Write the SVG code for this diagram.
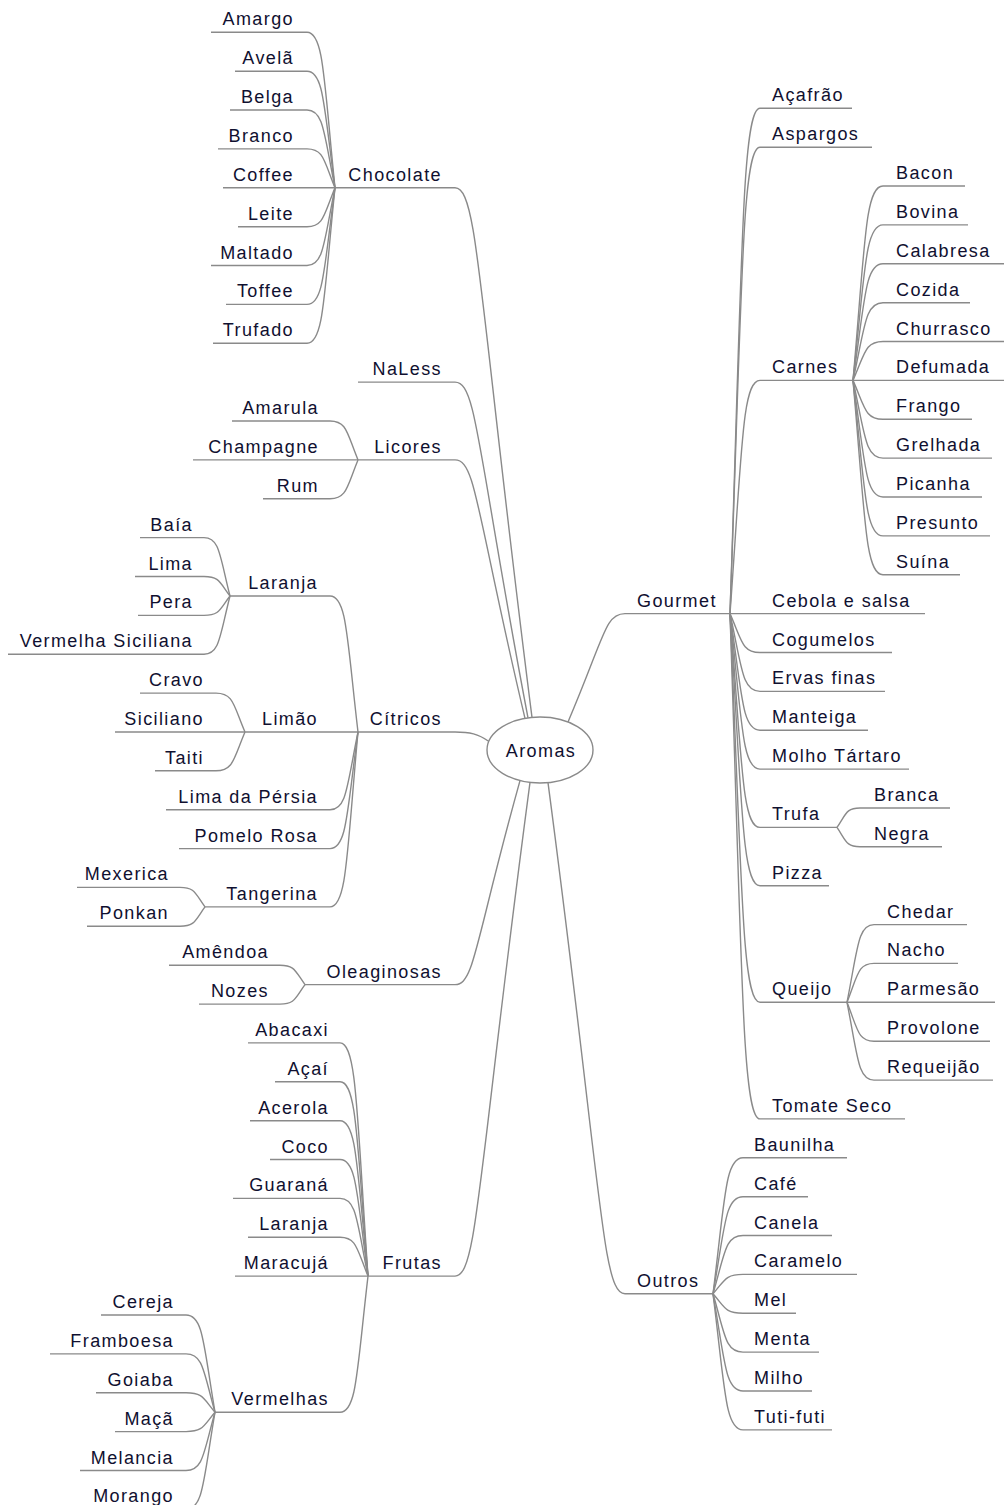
<svg xmlns="http://www.w3.org/2000/svg" width="1004" height="1505" viewBox="0 0 1004 1505">
<style>
  .t { font-family: "Liberation Sans", Arial, sans-serif; font-size: 18px; letter-spacing: 1.4px; fill: #101030; }
  .e { text-anchor: end; }
  .u, .c { fill: none; stroke: #8a8a8a; stroke-width: 1.4; }
  .root { fill: #ffffff; stroke: #8a8a8a; stroke-width: 1.4; }
</style>
<rect width="1004" height="1505" fill="#ffffff"/>

<!-- curved connectors between nodes -->
<g id="connectors" class="c">
  <!-- main branches to the root -->
  <path d="M455,187.8 C478.1,187.8 478.1,293.7 532,717.4"/>
  <path d="M455,382.1 C476.9,382.1 476.9,449.3 528,717.9"/>
  <path d="M455,459.9 C476,459.9 476,511.6 525,718.4"/>
  <path d="M455,732 C470,732 478,734 489,741.5"/>
  <path d="M455,984.6 C474.5,984.6 474.5,943.8 520,780.6"/>
  <path d="M455,1276.1 C477.5,1276.1 477.5,1177.4 530,782.4"/>
  <path d="M625,613.6 C605,613.6 605,635.3 568,722"/>
  <path d="M625,1293.8 C601.9,1293.8 601.9,1191.6 548,782.6"/>

  <!-- Chocolate -->
  <path d="M307,32.3 C323.8,32.3 323.8,79 335,187.8"/>
  <path d="M307,71.2 C323.8,71.2 323.8,106.2 335,187.8"/>
  <path d="M307,110 C323.8,110 323.8,133.3 335,187.8"/>
  <path d="M307,148.9 C323.8,148.9 323.8,160.6 335,187.8"/>
  <path d="M307,226.7 C323.8,226.7 323.8,215 335,187.8"/>
  <path d="M307,265.5 C323.8,265.5 323.8,242.2 335,187.8"/>
  <path d="M307,304.4 C323.8,304.4 323.8,269.4 335,187.8"/>
  <path d="M307,343.3 C323.8,343.3 323.8,296.6 335,187.8"/>

  <!-- Licores -->
  <path d="M330,421 C346.8,421 346.8,432.7 358,459.9"/>
  <path d="M330,498.7 C346.8,498.7 346.8,487.1 358,459.9"/>

  <!-- Cítricos -->
  <path d="M330,596 C346.8,596 346.8,636.8 358,732"/>
  <path d="M330,809.7 C346.8,809.7 346.8,786.4 358,732"/>
  <path d="M330,848.6 C346.8,848.6 346.8,813.6 358,732"/>
  <path d="M330,906.9 C346.8,906.9 346.8,854.4 358,732"/>

  <!-- Laranja -->
  <path d="M204,537.6 C219.6,537.6 219.6,555.1 230,596"/>
  <path d="M204,576.5 C219.6,576.5 219.6,582.4 230,596"/>
  <path d="M204,615.4 C219.6,615.4 219.6,609.6 230,596"/>
  <path d="M204,654.2 C219.6,654.2 219.6,636.7 230,596"/>

  <!-- Limão -->
  <path d="M216,693.1 C233.4,693.1 233.4,704.8 245,732"/>
  <path d="M216,770.8 C233.4,770.8 233.4,759.2 245,732"/>

  <!-- Tangerina -->
  <path d="M180,887.4 C195,887.4 195,893.3 205,906.9"/>
  <path d="M180,926.3 C195,926.3 195,920.5 205,906.9"/>

  <!-- Oleaginosas -->
  <path d="M280,965.2 C295,965.2 295,971 305,984.6"/>
  <path d="M280,1004.1 C295,1004.1 295,998.2 305,984.6"/>

  <!-- Frutas -->
  <path d="M340,1042.9 C356.8,1042.9 356.8,1112.9 368,1276.1"/>
  <path d="M340,1081.8 C356.8,1081.8 356.8,1140.1 368,1276.1"/>
  <path d="M340,1120.7 C356.8,1120.7 356.8,1167.3 368,1276.1"/>
  <path d="M340,1159.5 C356.8,1159.5 356.8,1194.5 368,1276.1"/>
  <path d="M340,1198.4 C356.8,1198.4 356.8,1221.7 368,1276.1"/>
  <path d="M340,1237.3 C356.8,1237.3 356.8,1248.9 368,1276.1"/>
  <path d="M340,1412.2 C356.8,1412.2 356.8,1371.4 368,1276.1"/>

  <!-- Vermelhas -->
  <path d="M186,1315 C203.4,1315 203.4,1344.2 215,1412.2"/>
  <path d="M186,1353.9 C203.4,1353.9 203.4,1371.4 215,1412.2"/>
  <path d="M186,1392.8 C203.4,1392.8 203.4,1398.6 215,1412.2"/>
  <path d="M186,1431.6 C203.4,1431.6 203.4,1425.8 215,1412.2"/>
  <path d="M186,1470.5 C203.4,1470.5 203.4,1453 215,1412.2"/>
  <path d="M186,1509.4 C203.4,1509.4 203.4,1480.2 215,1412.2"/>

  <!-- Gourmet -->
  <path d="M760,108.3 C742,108.3 742,259.9 730,613.6"/>
  <path d="M760,147.2 C742,147.2 742,287.1 730,613.6"/>
  <path d="M760,380.4 C742,380.4 742,450.4 730,613.6"/>
  <path d="M760,652.5 C742,652.5 742,640.8 730,613.6"/>
  <path d="M760,691.4 C742,691.4 742,668.1 730,613.6"/>
  <path d="M760,730.2 C742,730.2 742,695.2 730,613.6"/>
  <path d="M760,769.1 C742,769.1 742,722.5 730,613.6"/>
  <path d="M760,827.4 C742,827.4 742,763.3 730,613.6"/>
  <path d="M760,885.7 C742,885.7 742,804.1 730,613.6"/>
  <path d="M760,1002.3 C742,1002.3 742,885.7 730,613.6"/>
  <path d="M760,1118.9 C742,1118.9 742,967.3 730,613.6"/>

  <!-- Carnes -->
  <path d="M883,186 C865,186 865,244.3 853,380.4"/>
  <path d="M883,224.9 C865,224.9 865,271.5 853,380.4"/>
  <path d="M883,263.8 C865,263.8 865,298.8 853,380.4"/>
  <path d="M883,302.7 C865,302.7 865,326 853,380.4"/>
  <path d="M883,341.5 C865,341.5 865,353.2 853,380.4"/>
  <path d="M883,419.3 C865,419.3 865,407.6 853,380.4"/>
  <path d="M883,458.1 C865,458.1 865,434.8 853,380.4"/>
  <path d="M883,497 C865,497 865,462 853,380.4"/>
  <path d="M883,535.9 C865,535.9 865,489.2 853,380.4"/>
  <path d="M883,574.7 C865,574.7 865,516.4 853,380.4"/>

  <!-- Trufa -->
  <path d="M860,808 C846.2,808 846.2,813.8 837,827.4"/>
  <path d="M860,846.8 C846.2,846.8 846.2,841 837,827.4"/>

  <!-- Queijo -->
  <path d="M874,924.6 C857.8,924.6 857.8,947.9 847,1002.3"/>
  <path d="M874,963.4 C857.8,963.4 857.8,975.1 847,1002.3"/>
  <path d="M874,1041.2 C857.8,1041.2 857.8,1029.5 847,1002.3"/>
  <path d="M874,1080.1 C857.8,1080.1 857.8,1056.8 847,1002.3"/>

  <!-- Outros -->
  <path d="M743,1157.8 C725,1157.8 725,1198.6 713,1293.8"/>
  <path d="M743,1196.7 C725,1196.7 725,1225.8 713,1293.8"/>
  <path d="M743,1235.5 C725,1235.5 725,1253 713,1293.8"/>
  <path d="M743,1274.4 C725,1274.4 725,1280.2 713,1293.8"/>
  <path d="M743,1313.3 C725,1313.3 725,1307.5 713,1293.8"/>
  <path d="M743,1352.1 C725,1352.1 725,1334.6 713,1293.8"/>
  <path d="M743,1391 C725,1391 725,1361.8 713,1293.8"/>
  <path d="M743,1429.9 C725,1429.9 725,1389.1 713,1293.8"/>
</g>

<!-- root -->
<g id="n-aromas">
  <ellipse class="root" cx="540" cy="750" rx="53" ry="33"/>
  <text class="t" x="541" y="757" text-anchor="middle">Aromas</text>
</g>

<!-- left: Chocolate -->
<g id="n-chocolate"><path class="u" d="M335,187.8H455"/><text class="t e" x="442" y="180.8">Chocolate</text></g>
<g id="n-amargo"><path class="u" d="M211,32.3H307"/><text class="t e" x="294" y="25.3">Amargo</text></g>
<g id="n-avela"><path class="u" d="M235,71.2H307"/><text class="t e" x="294" y="64.2">Avelã</text></g>
<g id="n-belga"><path class="u" d="M230,110H307"/><text class="t e" x="294" y="103">Belga</text></g>
<g id="n-branco"><path class="u" d="M218,148.9H307"/><text class="t e" x="294" y="141.9">Branco</text></g>
<g id="n-coffee"><path class="u" d="M223,187.8H335"/><text class="t e" x="294" y="180.8">Coffee</text></g>
<g id="n-leite"><path class="u" d="M238,226.7H307"/><text class="t e" x="294" y="219.7">Leite</text></g>
<g id="n-maltado"><path class="u" d="M211,265.5H307"/><text class="t e" x="294" y="258.5">Maltado</text></g>
<g id="n-toffee"><path class="u" d="M226,304.4H307"/><text class="t e" x="294" y="297.4">Toffee</text></g>
<g id="n-trufado"><path class="u" d="M213,343.3H307"/><text class="t e" x="294" y="336.3">Trufado</text></g>

<!-- left: NaLess -->
<g id="n-naless"><path class="u" d="M358,382.1H455"/><text class="t e" x="442" y="375.1">NaLess</text></g>

<!-- left: Licores -->
<g id="n-licores"><path class="u" d="M358,459.9H455"/><text class="t e" x="442" y="452.9">Licores</text></g>
<g id="n-amarula"><path class="u" d="M232,421H330"/><text class="t e" x="319" y="414">Amarula</text></g>
<g id="n-champagne"><path class="u" d="M193,459.9H358"/><text class="t e" x="319" y="452.9">Champagne</text></g>
<g id="n-rum"><path class="u" d="M263,498.7H330"/><text class="t e" x="319" y="491.7">Rum</text></g>

<!-- left: Cítricos -->
<g id="n-citricos"><path class="u" d="M358,732H455"/><text class="t e" x="442" y="725">Cítricos</text></g>
<g id="n-laranja"><path class="u" d="M230,596H330"/><text class="t e" x="318" y="589">Laranja</text></g>
<g id="n-baia"><path class="u" d="M140,537.6H204"/><text class="t e" x="193" y="530.6">Baía</text></g>
<g id="n-lima"><path class="u" d="M135,576.5H204"/><text class="t e" x="193" y="569.5">Lima</text></g>
<g id="n-pera"><path class="u" d="M138,615.4H204"/><text class="t e" x="193" y="608.4">Pera</text></g>
<g id="n-vermelha-siciliana"><path class="u" d="M8,654.2H204"/><text class="t e" x="193" y="647.2">Vermelha Siciliana</text></g>
<g id="n-limao"><path class="u" d="M245,732H358"/><text class="t e" x="318" y="725">Limão</text></g>
<g id="n-cravo"><path class="u" d="M140,693.1H216"/><text class="t e" x="204" y="686.1">Cravo</text></g>
<g id="n-siciliano"><path class="u" d="M115,732H245"/><text class="t e" x="204" y="725">Siciliano</text></g>
<g id="n-taiti"><path class="u" d="M155,770.8H216"/><text class="t e" x="204" y="763.8">Taiti</text></g>
<g id="n-lima-persia"><path class="u" d="M166,809.7H330"/><text class="t e" x="318" y="802.7">Lima da Pérsia</text></g>
<g id="n-pomelo-rosa"><path class="u" d="M179,848.6H330"/><text class="t e" x="318" y="841.6">Pomelo Rosa</text></g>
<g id="n-tangerina"><path class="u" d="M205,906.9H330"/><text class="t e" x="318" y="899.9">Tangerina</text></g>
<g id="n-mexerica"><path class="u" d="M77,887.4H180"/><text class="t e" x="169" y="880.4">Mexerica</text></g>
<g id="n-ponkan"><path class="u" d="M87,926.3H180"/><text class="t e" x="169" y="919.3">Ponkan</text></g>

<!-- left: Oleaginosas -->
<g id="n-oleaginosas"><path class="u" d="M305,984.6H455"/><text class="t e" x="442" y="977.6">Oleaginosas</text></g>
<g id="n-amendoa"><path class="u" d="M169,965.2H280"/><text class="t e" x="269" y="958.2">Amêndoa</text></g>
<g id="n-nozes"><path class="u" d="M199,1004.1H280"/><text class="t e" x="269" y="997.1">Nozes</text></g>

<!-- left: Frutas -->
<g id="n-frutas"><path class="u" d="M368,1276.1H455"/><text class="t e" x="442" y="1269.1">Frutas</text></g>
<g id="n-abacaxi"><path class="u" d="M248,1042.9H340"/><text class="t e" x="329" y="1035.9">Abacaxi</text></g>
<g id="n-acai"><path class="u" d="M275,1081.8H340"/><text class="t e" x="329" y="1074.8">Açaí</text></g>
<g id="n-acerola"><path class="u" d="M250,1120.7H340"/><text class="t e" x="329" y="1113.7">Acerola</text></g>
<g id="n-coco"><path class="u" d="M270,1159.5H340"/><text class="t e" x="329" y="1152.5">Coco</text></g>
<g id="n-guarana"><path class="u" d="M233,1198.4H340"/><text class="t e" x="329" y="1191.4">Guaraná</text></g>
<g id="n-laranja-fruta"><path class="u" d="M248,1237.3H340"/><text class="t e" x="329" y="1230.3">Laranja</text></g>
<g id="n-maracuja"><path class="u" d="M235,1276.1H368"/><text class="t e" x="329" y="1269.1">Maracujá</text></g>
<g id="n-vermelhas"><path class="u" d="M215,1412.2H340"/><text class="t e" x="329" y="1405.2">Vermelhas</text></g>
<g id="n-cereja"><path class="u" d="M101,1315H186"/><text class="t e" x="174" y="1308">Cereja</text></g>
<g id="n-framboesa"><path class="u" d="M50,1353.9H186"/><text class="t e" x="174" y="1346.9">Framboesa</text></g>
<g id="n-goiaba"><path class="u" d="M96,1392.8H186"/><text class="t e" x="174" y="1385.8">Goiaba</text></g>
<g id="n-maca"><path class="u" d="M115,1431.6H186"/><text class="t e" x="174" y="1424.6">Maçã</text></g>
<g id="n-melancia"><path class="u" d="M80,1470.5H186"/><text class="t e" x="174" y="1463.5">Melancia</text></g>
<g id="n-morango"><path class="u" d="M80,1509.4H186"/><text class="t e" x="174" y="1502.4">Morango</text></g>

<!-- right: Gourmet -->
<g id="n-gourmet"><path class="u" d="M625,613.6H730"/><text class="t" x="637" y="606.6">Gourmet</text></g>
<g id="n-acafrao"><path class="u" d="M760,108.3H852"/><text class="t" x="772" y="101.3">Açafrão</text></g>
<g id="n-aspargos"><path class="u" d="M760,147.2H872"/><text class="t" x="772" y="140.2">Aspargos</text></g>
<g id="n-carnes"><path class="u" d="M760,380.4H853"/><text class="t" x="772" y="373.4">Carnes</text></g>
<g id="n-bacon"><path class="u" d="M883,186H965"/><text class="t" x="896" y="179">Bacon</text></g>
<g id="n-bovina"><path class="u" d="M883,224.9H968"/><text class="t" x="896" y="217.9">Bovina</text></g>
<g id="n-calabresa"><path class="u" d="M883,263.8H1004"/><text class="t" x="896" y="256.8">Calabresa</text></g>
<g id="n-cozida"><path class="u" d="M883,302.7H970"/><text class="t" x="896" y="295.7">Cozida</text></g>
<g id="n-churrasco"><path class="u" d="M883,341.5H1004"/><text class="t" x="896" y="334.5">Churrasco</text></g>
<g id="n-defumada"><path class="u" d="M853,380.4H1004"/><text class="t" x="896" y="373.4">Defumada</text></g>
<g id="n-frango"><path class="u" d="M883,419.3H972"/><text class="t" x="896" y="412.3">Frango</text></g>
<g id="n-grelhada"><path class="u" d="M883,458.1H992"/><text class="t" x="896" y="451.1">Grelhada</text></g>
<g id="n-picanha"><path class="u" d="M883,497H982"/><text class="t" x="896" y="490">Picanha</text></g>
<g id="n-presunto"><path class="u" d="M883,535.9H990"/><text class="t" x="896" y="528.9">Presunto</text></g>
<g id="n-suina"><path class="u" d="M883,574.7H960"/><text class="t" x="896" y="567.7">Suína</text></g>
<g id="n-cebola-salsa"><path class="u" d="M730,613.6H925"/><text class="t" x="772" y="606.6">Cebola e salsa</text></g>
<g id="n-cogumelos"><path class="u" d="M760,652.5H892"/><text class="t" x="772" y="645.5">Cogumelos</text></g>
<g id="n-ervas-finas"><path class="u" d="M760,691.4H885"/><text class="t" x="772" y="684.4">Ervas finas</text></g>
<g id="n-manteiga"><path class="u" d="M760,730.2H868"/><text class="t" x="772" y="723.2">Manteiga</text></g>
<g id="n-molho-tartaro"><path class="u" d="M760,769.1H909"/><text class="t" x="772" y="762.1">Molho Tártaro</text></g>
<g id="n-trufa"><path class="u" d="M760,827.4H837"/><text class="t" x="772" y="820.4">Trufa</text></g>
<g id="n-branca"><path class="u" d="M860,808H950"/><text class="t" x="874" y="801">Branca</text></g>
<g id="n-negra"><path class="u" d="M860,846.8H942"/><text class="t" x="874" y="839.8">Negra</text></g>
<g id="n-pizza"><path class="u" d="M760,885.7H829"/><text class="t" x="772" y="878.7">Pizza</text></g>
<g id="n-queijo"><path class="u" d="M760,1002.3H847"/><text class="t" x="772" y="995.3">Queijo</text></g>
<g id="n-chedar"><path class="u" d="M874,924.6H967"/><text class="t" x="887" y="917.6">Chedar</text></g>
<g id="n-nacho"><path class="u" d="M874,963.4H958"/><text class="t" x="887" y="956.4">Nacho</text></g>
<g id="n-parmesao"><path class="u" d="M847,1002.3H995"/><text class="t" x="887" y="995.3">Parmesão</text></g>
<g id="n-provolone"><path class="u" d="M874,1041.2H990"/><text class="t" x="887" y="1034.2">Provolone</text></g>
<g id="n-requeijao"><path class="u" d="M874,1080.1H993"/><text class="t" x="887" y="1073.1">Requeijão</text></g>
<g id="n-tomate-seco"><path class="u" d="M760,1118.9H905"/><text class="t" x="772" y="1111.9">Tomate Seco</text></g>

<!-- right: Outros -->
<g id="n-outros"><path class="u" d="M625,1293.8H713"/><text class="t" x="637" y="1286.8">Outros</text></g>
<g id="n-baunilha"><path class="u" d="M743,1157.8H847"/><text class="t" x="754" y="1150.8">Baunilha</text></g>
<g id="n-cafe"><path class="u" d="M743,1196.7H808"/><text class="t" x="754" y="1189.7">Café</text></g>
<g id="n-canela"><path class="u" d="M743,1235.5H832"/><text class="t" x="754" y="1228.5">Canela</text></g>
<g id="n-caramelo"><path class="u" d="M743,1274.4H857"/><text class="t" x="754" y="1267.4">Caramelo</text></g>
<g id="n-mel"><path class="u" d="M743,1313.3H796"/><text class="t" x="754" y="1306.3">Mel</text></g>
<g id="n-menta"><path class="u" d="M743,1352.1H819"/><text class="t" x="754" y="1345.1">Menta</text></g>
<g id="n-milho"><path class="u" d="M743,1391H812"/><text class="t" x="754" y="1384">Milho</text></g>
<g id="n-tuti-futi"><path class="u" d="M743,1429.9H832"/><text class="t" x="754" y="1422.9">Tuti-futi</text></g>
</svg>
